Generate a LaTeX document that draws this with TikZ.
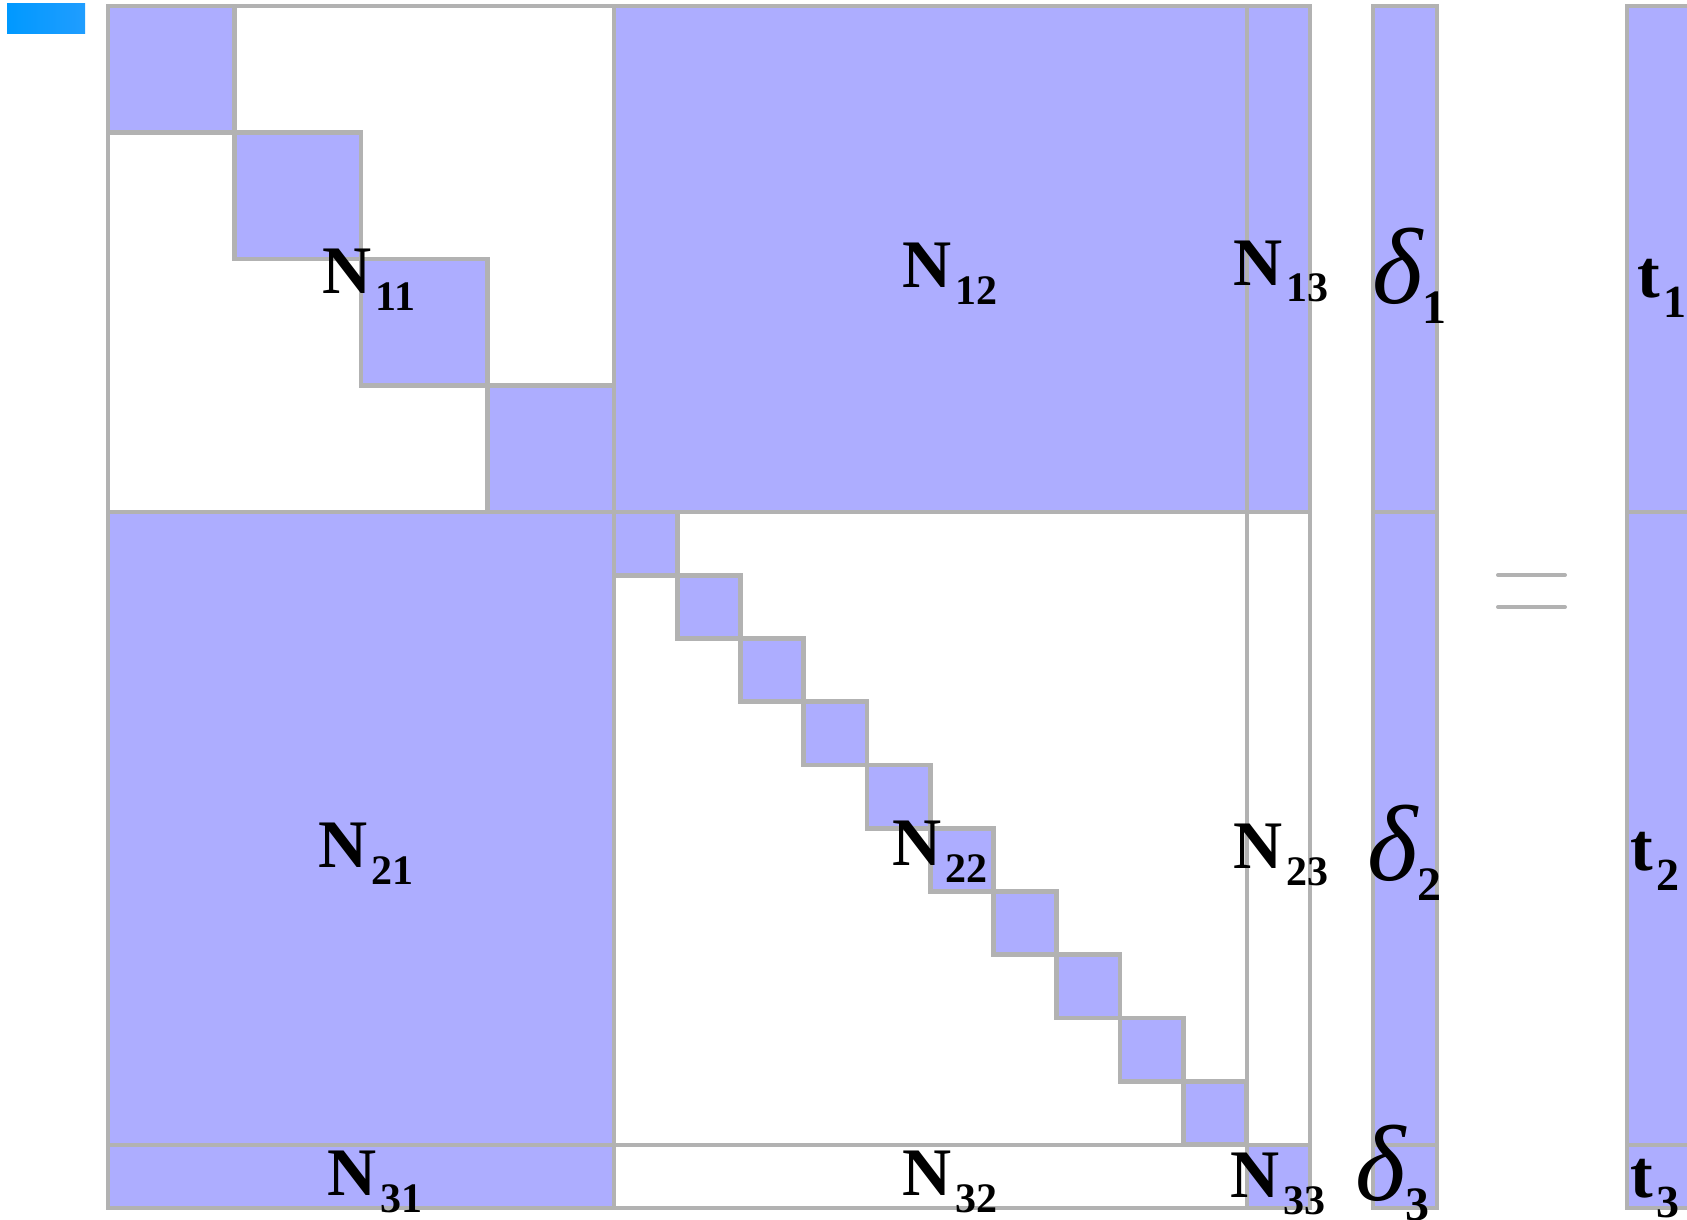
\documentclass[tikz,border=0pt]{standalone}
\usepackage{fontspec}
\setmainfont{Liberation Serif}
\definecolor{blockblue}{RGB}{173, 173, 255}
\definecolor{edgegray}{RGB}{178, 178, 178}
\definecolor{tabblue}{RGB}{0, 153, 255}
\definecolor{tabblueR}{RGB}{32, 157, 255}
\newcommand{\blocklbl}[2]{\textbf{#1}\kern2pt\raisebox{-8.5pt}{\fontsize{21}{22}\selectfont\bfseries #2}}
\newcommand{\deltalbl}[1]{{\fontsize{54}{56}\selectfont\itshape δ}\raisebox{-10pt}{\fontsize{24}{26}\selectfont\bfseries #1}}
\newcommand{\tlbl}[1]{\textbf{t}\kern1.5pt\raisebox{-10pt}{\fontsize{23}{24}\selectfont\bfseries #1}}
\begin{document}
\begin{tikzpicture}[x=0.5pt, y=-0.5pt,
      blk/.style  = {draw=edgegray, line width=2.3pt, fill=blockblue},
      hole/.style = {draw=edgegray, line width=2.3pt, fill=white},
      lbl/.style  = {anchor=base west, inner sep=0pt,
                     font=\fontsize{34}{36}\selectfont},
      eqbar/.style = {draw=edgegray, line width=2pt, line cap=round},
    ]
    \useasboundingbox (0,0) rectangle (1687,1220);
    \clip (0,0) rectangle (1687,1220);

    % --- Gitter (Pixel-Raster) ---
    \def\u{63.25}
    \def\xA{108}
    \def\xB{614}
    \def\xC{1247}
    \def\xD{1310}
    \def\yA{6}
    \def\yB{512}
    \def\yC{1145}
    \def\yD{1208}

    % kleiner Reiter oben links
    \fill[left color=tabblue, right color=tabblueR] (7,4) rectangle (85,34);

    % --- Blockzeile 1 ---
    \draw[hole] (\xA,\yA) rectangle (\xB,\yB);
    \foreach \i in {0,...,3}{
      \draw[blk] ({\xA+2*\u*\i},{\yA+2*\u*\i}) rectangle +(2*\u,2*\u);
    }
    \draw[blk] (\xB,\yA) rectangle (\xC,\yB);
    \draw[blk] (\xC,\yA) rectangle (\xD,\yB);

    % --- Blockzeile 2 ---
    \draw[blk] (\xA,\yB) rectangle (\xB,\yC);
    \draw[hole] (\xB,\yB) rectangle (\xC,\yC);
    \foreach \i in {0,...,9}{
      \draw[blk] ({\xB+\u*\i},{\yB+\u*\i}) rectangle +(\u,\u);
    }
    \draw[hole] (\xC,\yB) rectangle (\xD,\yC);

    % --- Blockzeile 3 ---
    \draw[blk] (\xA,\yC) rectangle (\xB,\yD);
    \draw[hole] (\xB,\yC) rectangle (\xC,\yD);
    \draw[blk] (\xC,\yC) rectangle (\xD,\yD);

    % --- Vektoren delta und t ---
    \foreach \ya/\yb in {\yA/\yB, \yB/\yC, \yC/\yD}{
      \draw[blk] (1373,\ya) rectangle (1437,\yb);
      \draw[blk] (1627,\ya) rectangle (1720,\yb);
    }

    % Gleichheitszeichen
    \draw[eqbar] (1498,575) -- (1565,575);
    \draw[eqbar] (1498,607) -- (1565,607);

    % --- Beschriftungen ---
    \node[lbl] (n11) at (322,293)  {\blocklbl{N}{11}};
    \node[lbl] (n12) at (902,287)  {\blocklbl{N}{12}};
    \node[lbl] (n13) at (1233,285) {\blocklbl{N}{13}};
    \node[lbl] (n21) at (318,867)  {\blocklbl{N}{21}};
    \node[lbl] (n22) at (892,865)  {\blocklbl{N}{22}};
    \node[lbl] (n23) at (1233,868) {\blocklbl{N}{23}};
    \node[lbl] (n31) at (327,1195) {\blocklbl{N}{31}};
    \node[lbl] (n32) at (902,1195) {\blocklbl{N}{32}};
    \node[lbl] (n33) at (1230,1197) {\blocklbl{N}{33}};

    \node[lbl] (d1) at (1372,303)  {\deltalbl{1}};
    \node[lbl] (d2) at (1367,880)  {\deltalbl{2}};
    \node[lbl] (d3) at (1355,1200) {\deltalbl{3}};

    \node[lbl] (t1) at (1637,297)  {\tlbl{1}};
    \node[lbl] (t2) at (1630,870)  {\tlbl{2}};
    \node[lbl] (t3) at (1630,1197) {\tlbl{3}};

  \end{tikzpicture}
\end{document}
